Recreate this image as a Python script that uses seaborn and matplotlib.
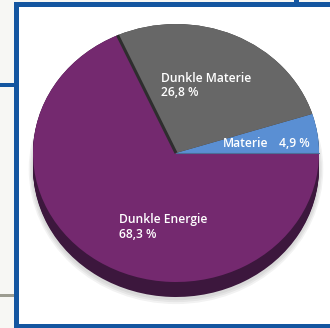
import matplotlib
matplotlib.use("Agg")
import numpy as np
import matplotlib.pyplot as plt
import seaborn as sns
from matplotlib.patches import Rectangle, Ellipse

# Anteile der Energiedichte des Universums (in Prozent)
labels = ["Materie", "Dunkle Materie", "Dunkle Energie"]
shares = [4.9, 26.8, 68.3]
top_colors = ["#5a8fd3", "#676767", "#74296f"]
side_colors = ["#34567e", "#3a3a3a", "#3c173d"]

sns.set_theme(style="white")
plt.rcParams["font.family"] = ["Open Sans", "DejaVu Sans"]

W, H = 330, 328
fig = plt.figure(figsize=(W / 100, H / 100), dpi=100)
fig.patch.set_facecolor("#f7f7f4")

# Hintergrund mit blauem Rahmen, Koordinaten in Pixeln
bg = fig.add_axes([0, 0, 1, 1])
bg.set_xlim(0, W)
bg.set_ylim(H, 0)
bg.axis("off")
blue = "#1456a0"
bg.add_patch(Rectangle((14, 2), W, H, facecolor=blue, edgecolor="none"))
bg.add_patch(Rectangle((19, 7), W, 317, facecolor="white", edgecolor="none"))
bg.add_patch(Rectangle((0, 83), 14, 4, facecolor=blue, edgecolor="none"))
bg.add_patch(Rectangle((0, 294), 14, 2.5, facecolor="#9c9c90", edgecolor="none"))
bg.add_patch(Rectangle((294, 0), 5, 3, facecolor=blue, edgecolor="none"))

# Kreisdiagramm als leicht gekippte Scheibe (elliptisch, mit Seitenkante)
cx, cy = 176, 153       # Mittelpunkt in Pixeln
rx, ry = 143, 129       # Halbachsen in Pixeln
span = 1.25
ax = fig.add_axes([
    (cx - span * rx) / W,
    1 - (cy + span * ry) / H,
    2 * span * rx / W,
    2 * span * ry / H,
])
ax.axis("off")

depth = 15 / ry
# weicher Schatten unter der Scheibe
for i, a in enumerate([0.05, 0.05, 0.05]):
    ax.add_patch(Ellipse((0, -depth - 0.01), 2.0 + 0.02 * (i + 1),
                         2.0 + 0.03 * (i + 1), facecolor="#000000",
                         alpha=a, edgecolor="none"))
for d in np.linspace(depth, 0.0, 16):
    ax.pie(shares, colors=side_colors, startangle=0, counterclock=True,
           center=(0, -d), radius=1, wedgeprops=dict(linewidth=0))
ax.pie(shares, colors=top_colors, startangle=0, counterclock=True,
       center=(0, 0), radius=1, wedgeprops=dict(linewidth=0))

# Schattenkante zwischen Dunkler Materie und Dunkler Energie
edge = np.deg2rad(360 * (shares[0] + shares[1]) / sum(shares))
ax.plot([0, np.cos(edge)], [0, np.sin(edge)], color="#2e2e2e", lw=2.2,
        solid_capstyle="butt")
ax.plot([0, 1.0], [0, 0], color="#4b6d98", lw=0.8)

ax.set_aspect("auto")
ax.set_xlim(-span, span)
ax.set_ylim(-span, span)


def fmt(v):
    return f"{v:.1f} %".replace(".", ",")


def put(x, y, s):
    fig.text(x / W, 1 - y / H, s, color="white", fontsize=8.7,
             fontweight="semibold", ha="left", va="center")


put(161, 79, labels[1])
put(161, 92, fmt(shares[1]))
put(223, 144, labels[0])
put(279, 144, fmt(shares[0]))
put(119, 219, labels[2])
put(119, 234, fmt(shares[2]))

fig.savefig("out.png", dpi=100, facecolor=fig.get_facecolor())
